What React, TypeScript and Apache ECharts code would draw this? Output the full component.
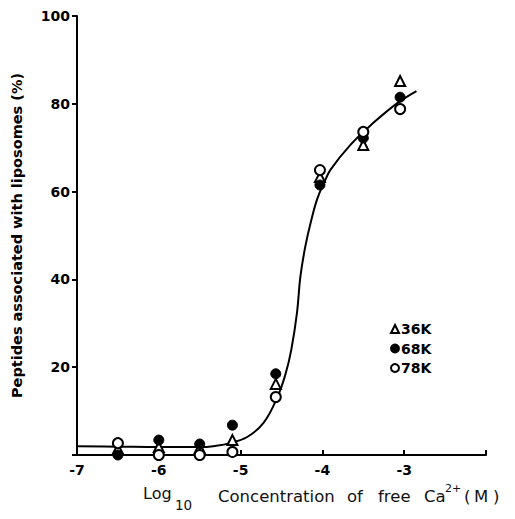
import React, { useEffect, useRef } from "react";
import * as echarts from "echarts";

const xTicks = [-7, -6, -5, -4, -3, -2];
const yTicks = [20, 40, 60, 80, 100];

const k36: [number, number][] = [
  [-6.5, 1.4], [-6.0, 1.8], [-5.5, 1.6], [-5.1, 3.4], [-4.57, 16.2], [-4.03, 63.3], [-3.5, 70.6], [-3.05, 85.2],
];
const k68: [number, number][] = [
  [-6.5, 0], [-6.0, 3.4], [-5.5, 2.5], [-5.1, 6.8], [-4.57, 18.5], [-4.03, 61.5], [-3.5, 72.2], [-3.05, 81.5],
];
const k78: [number, number][] = [
  [-6.5, 2.7], [-6.0, 0], [-5.5, 0], [-5.1, 0.7], [-4.57, 13.2], [-4.03, 64.9], [-3.5, 73.6], [-3.05, 78.8],
];
const fitCurve: [number, number][] = [
  [-7, 2.0], [-6.5, 1.9], [-6, 1.8], [-5.5, 1.8], [-5.3, 2.1], [-5.13, 2.7], [-4.92, 4.1], [-4.72, 7.3],
  [-4.55, 13.2], [-4.45, 18.5], [-4.38, 24], [-4.31, 32.5], [-4.27, 40.5], [-4.21, 47.4], [-4.14, 53.2],
  [-4.06, 58.5], [-3.98, 62], [-3.9, 65], [-3.66, 70.6], [-3.38, 75.6], [-3.08, 80.2], [-2.85, 82.9],
];

const BFONT = "DejaVu Sans";
const TFONT = "DejaVu Sans";
// page offset from the body's default 8px margin
const OFF = 8;

export default function App() {
  const ref = useRef<HTMLDivElement>(null);
  useEffect(() => {
    if (!ref.current) return;
    const chart = echarts.init(ref.current, null, { renderer: "svg" });
    const word = (text: string, x: number, bottom: number, size = 16.5) => ({
      type: "text",
      x: x - OFF,
      y: bottom - OFF,
      style: { text, fontFamily: TFONT, fontSize: size, fill: "#111", verticalAlign: "bottom", align: "left" },
    });
    chart.setOption({
      animation: false,
      backgroundColor: "#fff",
      grid: { left: 77 - OFF, right: 29, top: 16 - OFF, bottom: 64, outerBoundsMode: "none", containLabel: false },
      xAxis: {
        type: "value",
        min: -7,
        max: -2,
        interval: 1,
        axisLine: { lineStyle: { color: "#000", width: 2 } },
        axisTick: { inside: true, length: 5, lineStyle: { color: "#000", width: 2 } },
        axisLabel: {
          color: "#000",
          fontFamily: BFONT,
          fontWeight: "bold",
          fontSize: 14,
          margin: 8,
          formatter: (v: number) => (xTicks.includes(v) && v !== -2 ? String(v) : ""),
        },
        splitLine: { show: false },
      },
      yAxis: {
        type: "value",
        min: 0,
        max: 100,
        interval: 20,
        name: "Peptides associated with liposomes (%)",
        nameLocation: "middle",
        nameGap: 53,
        nameRotate: 90,
        nameTextStyle: { color: "#000", fontFamily: BFONT, fontWeight: "bold", fontSize: 14.5 },
        axisLine: { show: true, lineStyle: { color: "#000", width: 2 } },
        axisTick: { show: true, length: 5, lineStyle: { color: "#000", width: 2 } },
        axisLabel: {
          color: "#000",
          fontFamily: BFONT,
          fontWeight: "bold",
          fontSize: 14,
          margin: 7,
          formatter: (v: number) => (yTicks.includes(v) ? String(v) : ""),
        },
        splitLine: { show: false },
      },
      legend: {
        orient: "vertical",
        left: 385 - OFF,
        top: 317 - OFF,
        itemGap: 5.5,
        itemWidth: 8,
        itemHeight: 8,
        textStyle: { color: "#000", fontFamily: BFONT, fontWeight: "bold", fontSize: 14, lineHeight: 14, padding: [0, 0, 0, -3] },
        data: ["36K", "68K", "78K"],
      },
      series: [
        {
          name: "fit",
          type: "line",
          data: fitCurve,
          smooth: 0.4,
          showSymbol: false,
          lineStyle: { color: "#000", width: 2 },
          z: 1,
        },
        {
          name: "36K",
          type: "scatter",
          data: k36,
          symbol: "triangle",
          symbolSize: 10,
          itemStyle: { color: "#fff", borderColor: "#000", borderWidth: 2, opacity: 1 },
          z: 3,
        },
        {
          name: "68K",
          type: "scatter",
          data: k68,
          symbol: "circle",
          symbolSize: 10,
          itemStyle: { color: "#000", borderColor: "#000", borderWidth: 1, opacity: 1 },
          z: 4,
        },
        {
          name: "78K",
          type: "scatter",
          data: k78,
          symbol: "circle",
          symbolSize: 10,
          itemStyle: { color: "#fff", borderColor: "#000", borderWidth: 2, opacity: 1 },
          z: 5,
        },
      ],
      graphic: [
        word("Log", 143, 501, 16),
        word("10", 175, 512, 13.5),
        word("Concentration", 218, 505),
        word("of", 347, 505),
        word("free", 378, 505),
        word("Ca", 424, 505),
        word("2+", 445, 494, 11),
        word("(", 464, 505),
        word("M", 474, 505),
        word(")", 493, 505),
      ],
    });
    return () => chart.dispose();
  }, []);
  return <div ref={ref} style={{ width: 507, height: 511 }} />;
}
